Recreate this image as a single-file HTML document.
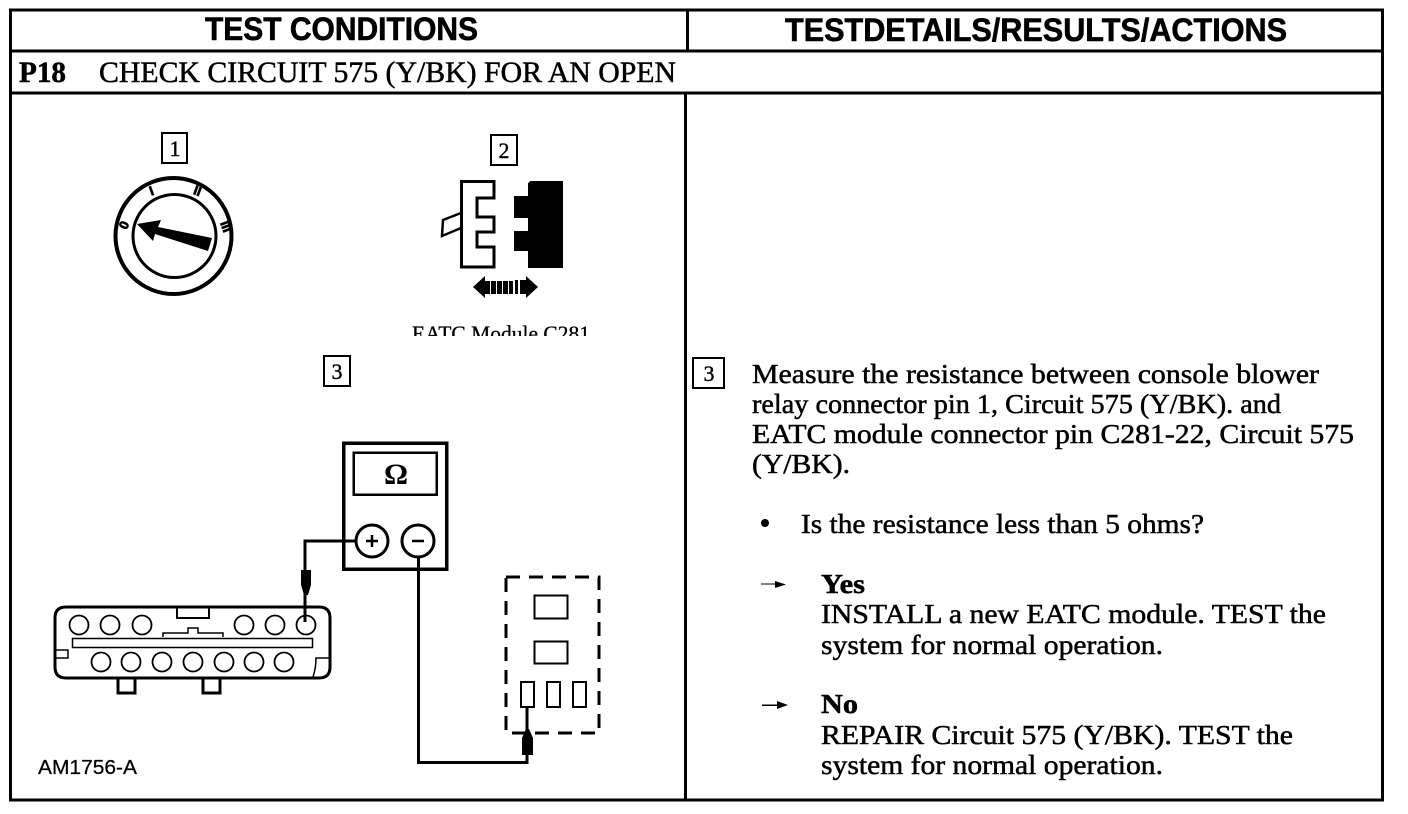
<!DOCTYPE html>
<html><head><meta charset="utf-8"><style>
html,body{margin:0;padding:0;background:#fff}
svg{display:block}
.s{font-family:"Liberation Serif",serif;font-size:27.5px;fill:#000;stroke:#000;stroke-width:.5px}
.t{font-size:30px}
.b{font-weight:bold}
.h{font-family:"Liberation Sans",sans-serif;font-weight:bold;font-size:32px;fill:#000;stroke:#000;stroke-width:.6px}
</style></head><body>
<svg width="1408" height="814" viewBox="0 0 1408 814" xmlns="http://www.w3.org/2000/svg" shape-rendering="crispEdges">
<rect width="1408" height="814" fill="#fff"/>
<g fill="none" stroke="#000" stroke-width="3">
<path d="M10.5 10H1382.5V800H10.5Z"/>
<path d="M10.5 51H1382.5M10.5 93H1382.5"/>
<path d="M687.5 10V51M685.5 93V800"/>
</g>
<text class="h" x="205" y="40" textLength="273" lengthAdjust="spacingAndGlyphs">TEST CONDITIONS</text>
<text class="h" x="785" y="41" textLength="502" lengthAdjust="spacingAndGlyphs">TESTDETAILS/RESULTS/ACTIONS</text>
<text class="s b t" x="19" y="82" textLength="47" lengthAdjust="spacingAndGlyphs">P18</text>
<text class="s t" x="99" y="82" textLength="577" lengthAdjust="spacingAndGlyphs">CHECK CIRCUIT 575 (Y/BK) FOR AN OPEN</text>

<!-- numbered boxes -->
<g fill="none" stroke="#000" stroke-width="2">
<rect x="162" y="133" width="25" height="30"/>
<rect x="491" y="135" width="26" height="30"/>
<rect x="324" y="356" width="26" height="30"/>
<rect x="693" y="358" width="31" height="30"/>
</g>
<g font-family="Liberation Serif,serif" font-size="22" text-anchor="middle" fill="#000" stroke="#000" stroke-width=".4">
<text x="175" y="156">1</text><text x="504" y="158">2</text><text x="337" y="379">3</text><text x="709" y="381">3</text>
</g>

<!-- ignition -->
<g shape-rendering="auto">
<circle cx="173.5" cy="236" r="58" fill="none" stroke="#000" stroke-width="4"/>
<circle cx="174.5" cy="236" r="41.5" fill="none" stroke="#000" stroke-width="3"/>
<path d="M137 224L161 220L158 227L212 238L208 251L155 234L153 241Z" fill="#000"/>
<g font-family="Liberation Sans,sans-serif" font-weight="bold" font-size="13" fill="#000" stroke="#000" stroke-width=".8" text-anchor="middle">
<text transform="translate(128 227) rotate(-65)">0</text>
<text transform="translate(153 195) rotate(-20)">I</text>
<text transform="translate(196 195) rotate(20)">II</text>
<text transform="translate(222 228) rotate(70)">III</text>
</g>
</g>

<!-- connector 2 -->
<path d="M461.5 181.5H494V198H477V217H494V232H477V247H494V267H461.5Z" fill="none" stroke="#000" stroke-width="3"/>
<path d="M461 213L443 220L442 236L461 228" fill="none" stroke="#000" stroke-width="2.5" shape-rendering="auto"/>
<path d="M530 181H563V268H528V251H514V231H528V218H514V196H528V183Z" fill="#000"/>
<g fill="#000" shape-rendering="auto">
<path d="M473 287L485 276V298Z"/><path d="M538 287L526 276V298Z"/>
<rect x="484" y="281" width="6" height="13"/><rect x="491" y="281" width="5" height="13"/><rect x="497" y="281" width="5" height="13"/><rect x="503" y="281" width="5" height="13"/><rect x="509" y="281" width="4" height="13"/><rect x="515" y="280" width="3" height="14"/><rect x="520" y="280" width="7" height="14"/>
</g>
<svg x="400" y="315" width="200" height="21" viewBox="400 315 200 21" shape-rendering="auto">
<text class="s" style="font-size:22px;stroke-width:.3px" x="412" y="341" textLength="178" lengthAdjust="spacingAndGlyphs">EATC Module C281</text>
</svg>

<!-- meter -->
<rect x="343.5" y="443" width="103" height="126" fill="none" stroke="#000" stroke-width="3.5"/>
<rect x="353.5" y="452.5" width="83" height="42" fill="none" stroke="#000" stroke-width="2.5"/>
<text x="396" y="484" font-family="Liberation Serif,serif" font-weight="bold" font-size="30" text-anchor="middle" fill="#000">Ω</text>
<g shape-rendering="auto">
<circle cx="372" cy="541" r="16" fill="#fff" stroke="#000" stroke-width="3"/>
<circle cx="418" cy="541" r="16" fill="#fff" stroke="#000" stroke-width="3"/>
<path d="M372 535V547M366 541H378" stroke="#000" stroke-width="2.5" fill="none"/>
<path d="M412 541H424" stroke="#000" stroke-width="2.5" fill="none"/>
</g>
<path d="M356 541H305V622" fill="none" stroke="#000" stroke-width="3"/>
<path d="M418.5 558V762.5H527V707" fill="none" stroke="#000" stroke-width="3"/>
<path d="M301 570H311V585L308 595H304L301 585Z" fill="#000" shape-rendering="auto"/>
<path d="M522 755H533V738L529 729H526L522 738Z" fill="#000" shape-rendering="auto"/>

<!-- relay -->
<rect x="506" y="577" width="93" height="156" fill="none" stroke="#000" stroke-width="3" stroke-dasharray="14 9"/>
<g fill="#fff" stroke="#000" stroke-width="2">
<rect x="534.5" y="595.5" width="33" height="23"/>
<rect x="534.5" y="641.5" width="33" height="22"/>
<rect x="521" y="682" width="13" height="25"/>
<rect x="547" y="682" width="13" height="25"/>
<rect x="573" y="682" width="13" height="25"/>
</g>

<!-- connector bottom -->
<g fill="none" stroke="#000" shape-rendering="auto">
<path d="M66 607H319Q330 607 330 618V667Q330 678 319 678H66Q55 678 55 667V618Q55 607 66 607Z" stroke-width="3"/>
<rect x="72.5" y="638.5" width="240" height="9" stroke-width="1.5"/>
<path d="M177 608V618H209V608" stroke-width="2"/>
<path d="M163 637V633H188V628H198V633H223V637" stroke-width="1.5"/>
<path d="M56 650H68V658H56" stroke-width="1.5"/>
<path d="M313 677Q316 668 316 658H329" stroke-width="1.5"/>
<path d="M118 679V693H135V679M203 679V693H220V679" stroke-width="3"/>
<g stroke-width="1.8">
<circle cx="79" cy="625" r="9.5"/><circle cx="110" cy="625" r="9.5"/><circle cx="142" cy="625" r="9.5"/>
<circle cx="244" cy="625" r="9.5"/><circle cx="275" cy="625" r="9.5"/><circle cx="306" cy="625" r="9.5"/>
<circle cx="101" cy="662" r="9.5"/><circle cx="131" cy="662" r="9.5"/><circle cx="162" cy="662" r="9.5"/>
<circle cx="193" cy="662" r="9.5"/><circle cx="224" cy="662" r="9.5"/><circle cx="254" cy="662" r="9.5"/><circle cx="284" cy="662" r="9.5"/>
</g>
</g>
<text x="38" y="774" font-family="Liberation Sans,sans-serif" font-size="20" fill="#000" stroke="#000" stroke-width=".25" textLength="99" lengthAdjust="spacingAndGlyphs">AM1756-A</text>

<!-- right text -->
<text class="s" x="752" y="383" textLength="567" lengthAdjust="spacingAndGlyphs">Measure the resistance between console blower</text>
<text class="s" x="752" y="413" textLength="529" lengthAdjust="spacingAndGlyphs">relay connector pin 1, Circuit 575 (Y/BK). and</text>
<text class="s" x="752" y="443" textLength="602" lengthAdjust="spacingAndGlyphs">EATC module connector pin C281-22, Circuit 575</text>
<text class="s" x="752" y="473" textLength="98" lengthAdjust="spacingAndGlyphs">(Y/BK).</text>
<circle cx="765" cy="523" r="4" fill="#000" shape-rendering="auto"/>
<text class="s" x="801" y="533" textLength="403" lengthAdjust="spacingAndGlyphs">Is the resistance less than 5 ohms?</text>
<path d="M761 584H780" stroke="#000" stroke-width="1.2" fill="none"/>
<path d="M775 581L786 584.5L775 588Z" fill="#000" shape-rendering="auto"/>
<text class="s b" x="821" y="593" textLength="44" lengthAdjust="spacingAndGlyphs">Yes</text>
<text class="s" x="821" y="623" textLength="505" lengthAdjust="spacingAndGlyphs">INSTALL a new EATC module. TEST the</text>
<text class="s" x="821" y="654" textLength="342" lengthAdjust="spacingAndGlyphs">system for normal operation.</text>
<path d="M762 705H782" stroke="#000" stroke-width="1.5" fill="none"/>
<path d="M777 701L788 705L777 709Z" fill="#000" shape-rendering="auto"/>
<text class="s b" x="821" y="713" textLength="37" lengthAdjust="spacingAndGlyphs">No</text>
<text class="s" x="821" y="744" textLength="472" lengthAdjust="spacingAndGlyphs">REPAIR Circuit 575 (Y/BK). TEST the</text>
<text class="s" x="821" y="774" textLength="342" lengthAdjust="spacingAndGlyphs">system for normal operation.</text>
</svg>
</body></html>
